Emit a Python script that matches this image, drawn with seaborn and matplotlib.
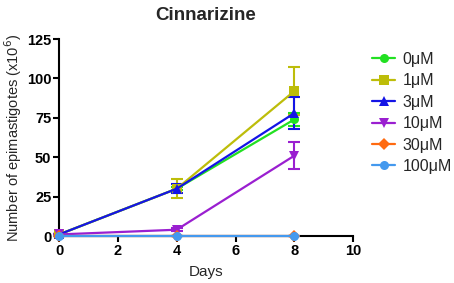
import pandas as pd
import seaborn as sns
import matplotlib.pyplot as plt

days = [0, 4, 8]
conc = ['0μM', '1μM', '3μM', '10μM', '30μM', '100μM']
mean_0 = [1, 30, 74]
mean_1 = [1, 30, 92]
mean_3 = [1, 30, 78]
mean_10 = [1, 4, 51]
mean_30 = [0, 0, 0]
mean_100 = [0, 0, 0]
err_0 = [0, 1, 4]
err_1 = [0, 6, 15]
err_3 = [0, 3, 10]
err_10 = [0, 1, 8.5]
err_30 = [0, 0, 0]
err_100 = [0, 0, 0]

colors = ['#22e022', '#bdbd0a', '#1414e6', '#9a1fd0', '#ff6a10', '#4499ee']
markers = ['o', 's', '^', 'v', 'D', 'o']

means = [mean_0, mean_1, mean_3, mean_10, mean_30, mean_100]
errs = [err_0, err_1, err_3, err_10, err_30, err_100]

df = pd.DataFrame({
    'Days': days * len(conc),
    'Count': sum(means, []),
    'Err': sum(errs, []),
    'Conc': [c for c in conc for _ in days],
})

sns.set_style('ticks')
plt.rcParams['font.family'] = ['Liberation Sans', 'DejaVu Sans']

fig = plt.figure(figsize=(4.54, 2.83), dpi=100)
ax = fig.add_axes([0.13, 0.166, 0.648, 0.696])

# error bars first, lines on top
for c, col in zip(conc, colors):
    d = df[df['Conc'] == c]
    ax.errorbar(d['Days'], d['Count'], yerr=d['Err'], fmt='none', ecolor=col,
                elinewidth=1.5, capsize=4.5, capthick=1.5, clip_on=False, zorder=3)

sns.lineplot(data=df, x='Days', y='Count', hue='Conc', style='Conc',
             palette=colors, markers=markers, dashes=False, linewidth=1.6,
             markersize=6.5, markeredgewidth=0, ax=ax, clip_on=False, zorder=4)

ax.set_xlim(0, 10)
ax.set_ylim(0, 125)
ax.set_xticks([0, 2, 4, 6, 8, 10])
ax.set_yticks([0, 25, 50, 75, 100, 125])
for s in ['top', 'right']:
    ax.spines[s].set_visible(False)
for s in ['left', 'bottom']:
    ax.spines[s].set_linewidth(1.5)
    ax.spines[s].set_color('black')
ax.spines['bottom'].set_zorder(2)
ax.tick_params(width=1.5, length=4.5, labelsize=10.5, colors='black', pad=1)
for lab in ax.get_xticklabels() + ax.get_yticklabels():
    lab.set_fontweight('bold')

ax.set_xlabel('Days', fontsize=11, labelpad=5)
ax.set_ylabel('Number of epimastigotes (x10$^6$)', fontsize=10.5, labelpad=2)
ax.set_title('Cinnarizine', fontsize=13.5, fontweight='bold', pad=14)

leg = ax.legend(title=None, frameon=False, loc='upper left',
                bbox_to_anchor=(372 / 454, 1 - 52 / 283),
                bbox_transform=fig.transFigure, borderaxespad=0, borderpad=0,
                fontsize=11.5, handlelength=1.45, labelspacing=0.4,
                handletextpad=0.45)

fig.savefig('out.png', dpi=100)
